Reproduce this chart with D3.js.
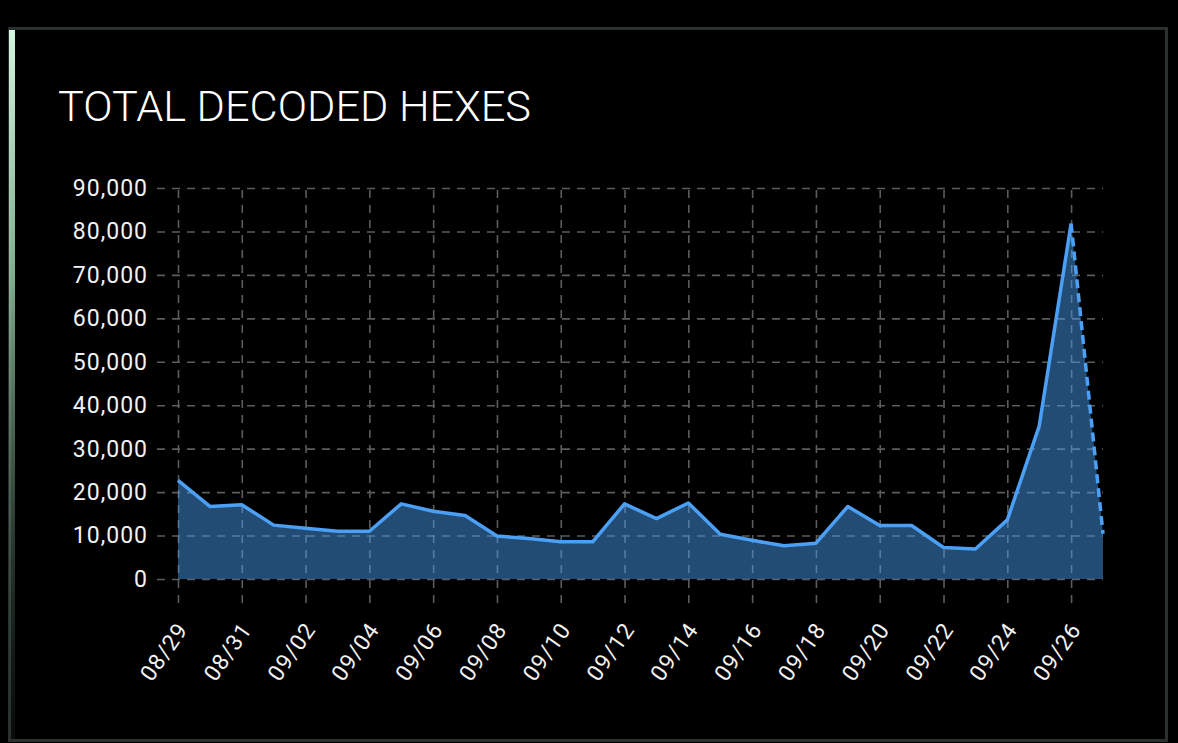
<!DOCTYPE html>
<html>
<head>
<meta charset="utf-8">
<script src="https://cdn.jsdelivr.net/npm/d3@7"></script>
<style>
  html, body { margin: 0; padding: 0; background: #000; }
  svg { display: block; }
</style>
</head>
<body>
<svg id="chart" width="1178" height="743"></svg>
<script>
const titleText = "TOTAL DECODED HEXES";
const dates = ["08/29","08/30","08/31","09/01","09/02","09/03","09/04","09/05","09/06","09/07",
               "09/08","09/09","09/10","09/11","09/12","09/13","09/14","09/15","09/16","09/17",
               "09/18","09/19","09/20","09/21","09/22","09/23","09/24","09/25","09/26","09/27"];
const values = [22700,16700,17100,12400,11700,11000,11000,17300,15600,14600,
                9900,9300,8600,8550,17300,13900,17500,10300,8900,7650,
                8250,16700,12300,12300,7250,6900,13600,35200,81800,10400];
const xTickLabels = ["08/29","08/31","09/02","09/04","09/06","09/08","09/10","09/12",
                     "09/14","09/16","09/18","09/20","09/22","09/24","09/26"];
const yTickValues = [0,10000,20000,30000,40000,50000,60000,70000,80000,90000];

const svg = d3.select("#chart");
const FONT = "Roboto, 'Open Sans', sans-serif";

// card
const defs = svg.append("defs");
const grad = defs.append("linearGradient").attr("id","accent").attr("x1",0).attr("y1",0).attr("x2",0).attr("y2",1);
grad.append("stop").attr("offset","0%").attr("stop-color","#d4f5de");
grad.append("stop").attr("offset","35%").attr("stop-color","#9fd6b0").attr("stop-opacity",0.8);
grad.append("stop").attr("offset","100%").attr("stop-color","#2a3a30").attr("stop-opacity",0.2);

svg.append("rect").attr("x",9.5).attr("y",28.5).attr("width",1157).attr("height",712)
  .attr("fill","#000").attr("stroke","#2a2f2f").attr("stroke-width",3);
svg.append("rect").attr("x",9).attr("y",30).attr("width",6).attr("height",709)
  .attr("fill","url(#accent)");

// title
svg.append("text").attr("x",58).attr("y",121)
  .attr("fill","#ffffff").attr("font-family",FONT).attr("font-weight",300)
  .attr("font-size",42).attr("textLength",473).attr("lengthAdjust","spacingAndGlyphs")
  .text(titleText);

const x = d3.scalePoint().domain(dates).range([178,1103]);
const y = d3.scaleLinear().domain([0,90000]).range([579,188]);

const gridColor = "#5c5c5c";

// y axis + horizontal grid
const yAxis = d3.axisLeft(y).tickValues(yTickValues).tickFormat(d3.format(","))
  .tickSize(-(1103-157)).tickPadding(9);
const gy = svg.append("g").attr("transform","translate(157,0)").call(yAxis);
gy.select(".domain").remove();
gy.selectAll(".tick line").attr("stroke",gridColor).attr("stroke-width",1.6).attr("stroke-dasharray","8,7");
gy.selectAll(".tick text").attr("fill","#f2f2f2").attr("font-family",FONT).attr("font-weight",400)
  .attr("font-size",23).attr("letter-spacing","1px");

// x axis + vertical grid
const xAxis = d3.axisBottom(x).tickValues(xTickLabels).tickSize(-(579-188));
const gx = svg.append("g").attr("transform","translate(0,579)").call(xAxis);
gx.select(".domain").remove();
gx.selectAll(".tick line").attr("y1",24).attr("y2",-(579-188))
  .attr("stroke",gridColor).attr("stroke-width",1.6).attr("stroke-dasharray","8,7");
gx.selectAll(".tick text")
  .attr("fill","#f2f2f2").attr("font-family",FONT).attr("font-weight",400)
  .attr("font-size",22.5).attr("letter-spacing","1px")
  .attr("text-anchor","end").attr("dy","0.35em").attr("y",0)
  .attr("transform","translate(4,46) rotate(-55)");

// area
const pts = dates.map((d,i)=>({d, v: values[i]}));
const area = d3.area().x(p=>x(p.d)).y0(y(0)).y1(p=>y(p.v));
svg.append("path").datum(pts).attr("d",area).attr("fill","#4a9ff5").attr("fill-opacity",0.48);

// line: solid through 09/26, dashed last segment
const line = d3.line().x(p=>x(p.d)).y(p=>y(p.v));
svg.append("path").datum(pts.slice(0, pts.length-1)).attr("d",line)
  .attr("fill","none").attr("stroke","#4ba0f6").attr("stroke-width",3.5).attr("stroke-linejoin","round");
svg.append("path").datum(pts.slice(pts.length-2)).attr("d",line)
  .attr("fill","none").attr("stroke","#4ba0f6").attr("stroke-width",3.5).attr("stroke-dasharray","9,5");
</script>
</body>
</html>
